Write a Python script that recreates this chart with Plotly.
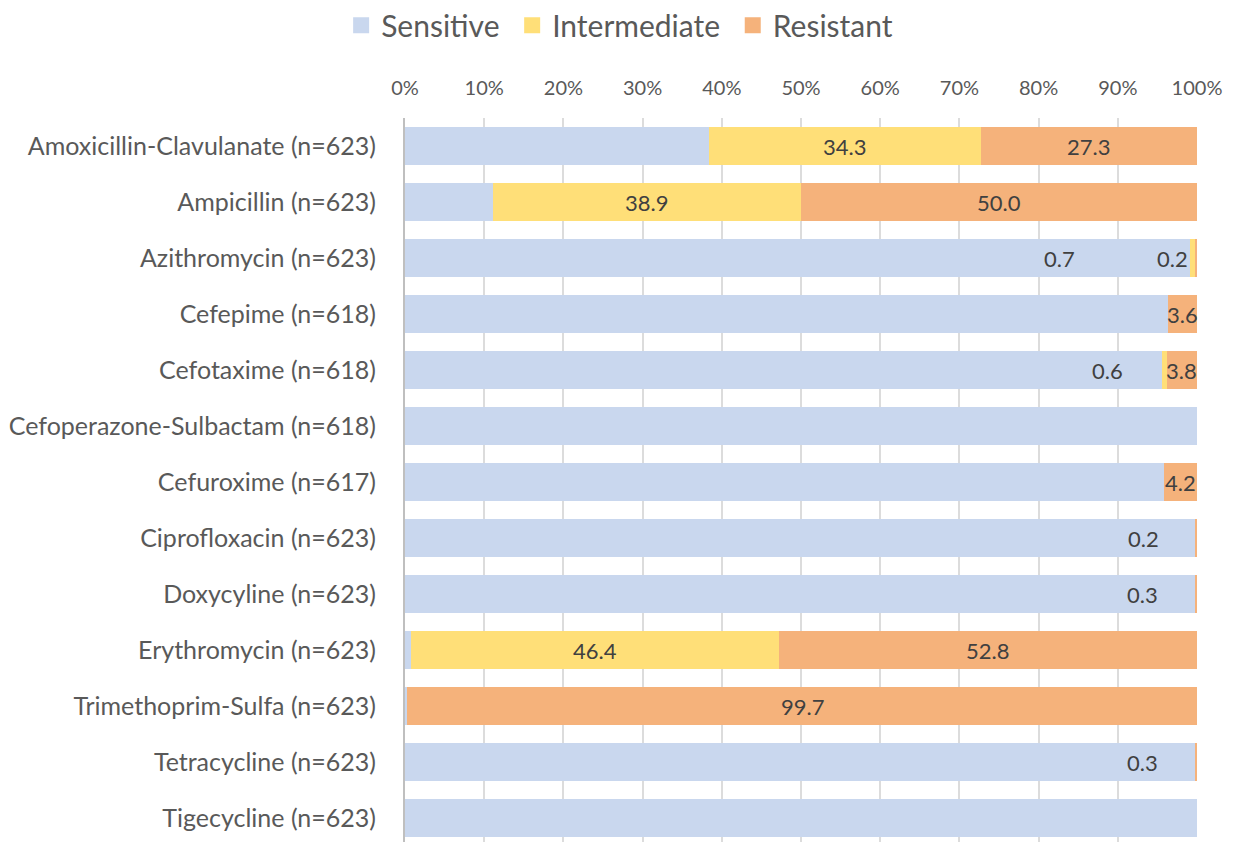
import plotly.graph_objects as go

categories = [
    "Amoxicillin-Clavulanate (n=623)", "Ampicillin (n=623)", "Azithromycin (n=623)",
    "Cefepime (n=618)", "Cefotaxime (n=618)", "Cefoperazone-Sulbactam (n=618)",
    "Cefuroxime (n=617)", "Ciprofloxacin (n=623)", "Doxycyline (n=623)",
    "Erythromycin (n=623)", "Trimethoprim-Sulfa (n=623)", "Tetracycline (n=623)",
    "Tigecycline (n=623)",
]
sensitive = [38.4, 11.1, 99.1, 96.4, 95.6, 100.0, 95.8, 99.8, 99.7, 0.8, 0.3, 99.7, 100.0]
intermediate = [34.3, 38.9, 0.7, 0.0, 0.6, 0.0, 0.0, 0.0, 0.0, 46.4, 0.0, 0.0, 0.0]
resistant = [27.3, 50.0, 0.2, 3.6, 3.8, 0.0, 4.2, 0.2, 0.3, 52.8, 99.7, 0.3, 0.0]
tick_vals = [0, 10, 20, 30, 40, 50, 60, 70, 80, 90, 100]
tick_text = ["0%", "10%", "20%", "30%", "40%", "50%", "60%", "70%", "80%", "90%", "100%"]
series_names = ["Sensitive", "Intermediate", "Resistant"]

colors = {"Sensitive": "#C9D7EE", "Intermediate": "#FFDF78", "Resistant": "#F5B27B"}
txt_color = "#404040"
tick_color = "#595959"
font_family = "Lato, 'Open Sans', sans-serif"

# pixel shifts for labels of tiny segments (moved left of bar end)
inter_shift = {2: -133, 4: -57}
resist_shift = {2: -24, 7: -53, 8: -53, 11: -53}
legend_pad = {"Sensitive": "\u00a0", "Intermediate": "\u00a0", "Resistant": ""}

fig = go.Figure()
for name, vals in zip(series_names, [sensitive, intermediate, resistant]):
    fig.add_trace(go.Bar(
        y=categories, x=vals, name=name, orientation="h",
        marker=dict(color=colors[name], line=dict(width=0)),
        hoverinfo="x+name", showlegend=False, legendgroup=name,
    ))
# legend entries with square swatches
for name in series_names:
    fig.add_trace(go.Scatter(
        x=[None], y=[None], mode="markers", name=name + legend_pad[name], legendgroup=name,
        marker=dict(symbol="square", size=18, color=colors[name]),
        showlegend=True,
    ))

annotations = []
for i, cat in enumerate(categories):
    s, m, r = sensitive[i], intermediate[i], resistant[i]
    if m > 0:
        annotations.append(dict(x=s + m / 2, y=cat, text=f"{m:.1f}", showarrow=False,
                                xshift=inter_shift.get(i, 0),
                                font=dict(size=22, color=txt_color, family=font_family)))
    if r > 0:
        annotations.append(dict(x=s + m + r / 2, y=cat, text=f"{r:.1f}", showarrow=False,
                                xshift=resist_shift.get(i, 0),
                                font=dict(size=22, color=txt_color, family=font_family)))

fig.update_layout(
    barmode="stack",
    bargap=0.32,
    width=1245, height=842,
    margin=dict(l=397, r=56, t=110, b=4, autoexpand=False),
    paper_bgcolor="white", plot_bgcolor="white",
    font=dict(family=font_family, color=txt_color, size=20),
    legend=dict(orientation="h", xref="paper", yref="paper",
                x=0.271, y=1.163, xanchor="center", yanchor="top",
                font=dict(size=30, color=tick_color), traceorder="normal",
                itemwidth=30, tracegroupgap=0),
    xaxis=dict(side="top", range=[0, 100], tickvals=tick_vals, ticktext=tick_text,
               showgrid=True, gridcolor="#DCDCDC", gridwidth=2, zeroline=False,
               showline=False, ticks="", ticklabelstandoff=18,
               tickfont=dict(size=20, color=tick_color)),
    yaxis=dict(autorange="reversed", showline=True, linecolor="#BFBFBF", linewidth=2,
               ticks="", ticklabelstandoff=22, tickfont=dict(size=25, color=tick_color)),
    annotations=annotations,
)

fig.write_html("out.html")
